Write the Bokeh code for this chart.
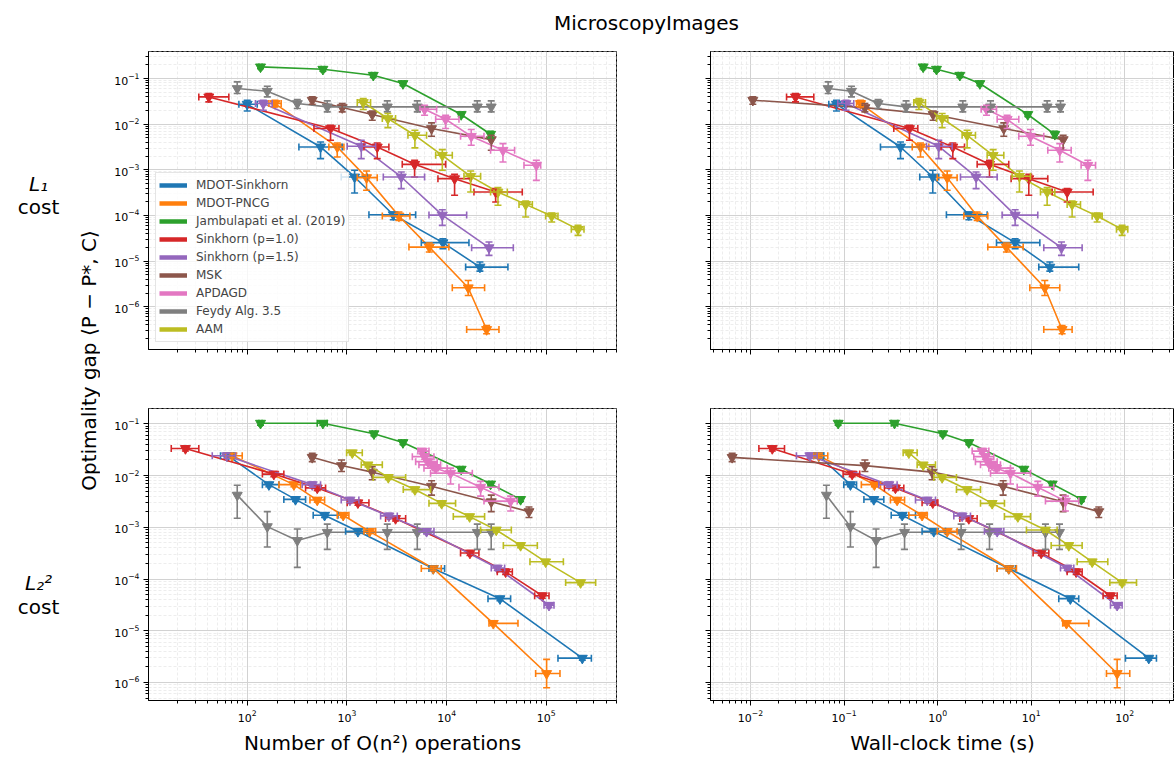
import math
from bokeh.plotting import figure
from bokeh.models import (ColumnDataSource, Whisker, TeeHead, Range1d, FixedTicker,
                          Legend, LegendItem, Label, CustomJSTickFormatter)
from bokeh.layouts import column, row
from bokeh.embed import file_html
from bokeh.resources import INLINE

# ---------------------------------------------------------------- series
NAMES = ["MDOT-Sinkhorn", "MDOT-PNCG", "Jambulapati et al. (2019)", "Sinkhorn (p=1.0)",
         "Sinkhorn (p=1.5)", "MSK", "APDAGD", "Feydy Alg. 3.5", "AAM"]
COLORS = ["#1f77b4", "#ff7f0e", "#2ca02c", "#d62728", "#9467bd",
          "#8c564b", "#e377c2", "#7f7f7f", "#bcbd22"]
(MS, PN, JA, S1, S15, MSK, AP, FE, AAM) = NAMES

# ---------------------------------------------------------------- L1 cost: optimality gap
L1_Y = {
    MS: [0.0274, 0.00317, 0.000698, 0.000104, 2.54e-5, 7.41e-6],
    PN: [0.0283, 0.00317, 0.000675, 9.73e-5, 2.03e-5, 2.61e-6, 3.18e-7],
    JA: [0.180, 0.160, 0.118, 0.0777, 0.0163, 0.00601],
    S1: [0.0396, 0.00802, 0.00317, 0.00132, 0.000641, 0.000327],
    S15: [0.0283, 0.00328, 0.000698, 0.000102, 1.97e-5],
    MSK: [0.0335, 0.0231, 0.0163, 0.00802, 0.00459],
    AP: [0.0212, 0.0128, 0.00543, 0.00268, 0.00126],
    FE: [0.0604, 0.0527, 0.0283, 0.0239, 0.0239, 0.0239, 0.0239, 0.0239],
    AAM: [0.0298, 0.0133, 0.00571, 0.00208, 0.000721, 0.000327, 0.000175, 9.73e-5, 4.97e-5],
}
L1_YLO = {
    MS: [0.0195, 0.00176, 0.000311, 8.09e-5, 1.87e-5, 6.05e-6],
    PN: [0.0239, 0.00191, 0.000356, 7.82e-5, 1.58e-5, 1.77e-6, 2.56e-7],
    JA: [0.164, 0.145, 0.107, 0.0706, 0.0148, 0.0050],
    S1: [0.0308, 0.00445, 0.00176, 0.000698, 0.000277, 0.000197],
    S15: [0.0202, 0.00176, 0.000387, 6.08e-5, 1.34e-5],
    MSK: [0.0274, 0.0186, 0.0122, 0.00543, 0.00268],
    AP: [0.0157, 0.00802, 0.00345, 0.00149, 0.000589],
    FE: [0.0469, 0.0396, 0.0220, 0.0186, 0.0186, 0.0186, 0.0186, 0.0186],
    AAM: [0.0209, 0.00841, 0.00302, 0.000977, 0.000327, 0.000167, 9.25e-5, 7.19e-5, 3.66e-5],
}
L1_YHI = {
    MS: [0.0335, 0.00408, 0.000977, 0.000119, 3.10e-5, 9.55e-6],
    PN: [0.0335, 0.00388, 0.000944, 0.000119, 2.49e-5, 3.78e-6, 3.9e-7],
    JA: [0.198, 0.176, 0.130, 0.0855, 0.0179, 0.0070],
    S1: [0.0469, 0.00948, 0.00388, 0.00162, 0.000798, 0.000387],
    S15: [0.0335, 0.00445, 0.000897, 0.000134, 2.62e-5],
    MSK: [0.0396, 0.0283, 0.0195, 0.01067, 0.00571],
    AP: [0.0260, 0.0157, 0.00762, 0.00376, 0.00162],
    FE: [0.0845, 0.0679, 0.0346, 0.0324, 0.0324, 0.0324, 0.0324, 0.0324],
    AAM: [0.0364, 0.0171, 0.00736, 0.00277, 0.000944, 0.000407, 0.000208, 0.000113, 6.08e-5],
}
# L1 cost: number of O(n^2) operations
L1_OPS = {
    MS: [100, 544, 1194, 2917, 9183, 21580],
    PN: [190, 800, 1574, 3325, 6700, 16480, 25180],
    JA: [136, 574, 1837, 3648, 14000, 27600],
    S1: [41.2, 685, 2014, 4775, 12020, 31050],
    S15: [145, 1393, 3508, 9057, 26610],
    MSK: [449, 897, 1795, 7063, 28050],
    AP: [6012, 9772, 17660, 36730, 79430],
    FE: [79.4, 159, 318, 635, 2540, 5080, 20300, 28000],
    AAM: [1459, 2576, 4808, 9057, 17420, 32740, 62090, 113200, 208000],
}
L1_OPS_LO = {
    MS: [82.5, 330, 877, 1663, 5572, 15520],
    PN: [165, 659, 1270, 2265, 4190, 11400, 15890],
    JA: [131, 552, 1766, 3508, 13460, 26540],
    S1: [32.7, 467, 1482, 3589, 8185, 18800],
    S15: [121, 1007, 2317, 6653, 17820],
    AP: [5395, 7762, 13800, 27610, 59700],
    AAM: [1270, 2265, 4093, 7762, 14930, 27610, 53210, 98450, 178200],
}
L1_OPS_HI = {
    MS: [126, 897, 1600, 4890, 16750, 41200],
    PN: [219, 933, 2014, 4285, 10540, 24040, 33500],
    JA: [141, 597, 1910, 3794, 14560, 28700],
    S1: [65.4, 832, 2636, 9772, 17420, 57400],
    S15: [178, 1941, 6012, 15890, 46670],
    AP: [7943, 13300, 23700, 48080, 87700],
    AAM: [1726, 3076, 6295, 11400, 21930, 40640, 72440, 130900, 238800],
}
# L1 cost: wall-clock time (s)
L1_T = {
    MS: [0.0830, 0.401, 0.887, 2.153, 6.73, 15.81],
    PN: [0.150, 0.656, 1.265, 2.644, 5.43, 13.96, 21.38],
    JA: [0.700, 0.972, 1.726, 2.825, 9.19, 17.87],
    S1: [0.0303, 0.500, 1.452, 3.581, 9.42, 24.2],
    S15: [0.105, 1.028, 2.576, 6.73, 21.04],
    MSK: [0.0106, 0.167, 0.895, 5.09, 21.93],
    AP: [3.327, 5.533, 9.82, 20.18, 40.27],
    FE: [0.0676, 0.120, 0.231, 0.460, 1.858, 3.673, 14.79, 20.56],
    AAM: [0.630, 1.117, 2.065, 3.917, 7.48, 14.79, 27.35, 50.6, 93.6],
}
L1_T_LO = {
    MS: [0.0687, 0.245, 0.644, 1.241, 4.256, 12.05],
    PN: [0.136, 0.535, 0.989, 1.905, 3.436, 9.66, 13.62],
    JA: [0.673, 0.935, 1.660, 2.716, 8.84, 17.18],
    S1: [0.0243, 0.340, 1.089, 2.644, 6.10, 16.75],
    S15: [0.0857, 0.760, 1.754, 4.887, 13.62],
    AP: [2.917, 4.325, 7.362, 15.03, 34.12],
    AAM: [0.556, 0.972, 1.827, 3.381, 6.25, 12.56, 24.2, 44.8, 81.5],
}
L1_T_HI = {
    MS: [0.101, 0.656, 1.028, 3.381, 12.36, 32.2],
    PN: [0.165, 0.805, 1.615, 3.436, 8.20, 20.18, 27.35],
    JA: [0.728, 1.011, 1.795, 2.938, 9.56, 18.58],
    S1: [0.0475, 0.614, 1.936, 5.754, 15.03, 45.9],
    S15: [0.127, 1.429, 4.325, 11.75, 34.99],
    AP: [4.256, 7.362, 13.62, 26.73, 48.64],
    AAM: [0.741, 1.285, 2.535, 5.093, 9.82, 17.87, 33.6, 57.3, 107.6],
}

# ---------------------------------------------------------------- L2^2 cost: optimality gap
L2_Y = {
    MS: [0.0242, 0.00668, 0.00346, 0.00171, 0.000835, 0.000160, 4.17e-5, 2.95e-6],
    PN: [0.0242, 0.00668, 0.00336, 0.00171, 0.000835, 0.000160, 1.39e-5, 1.49e-6],
    JA: [0.103, 0.103, 0.0644, 0.0435, 0.0133, 0.00687, 0.00346],
    S1: [0.0334, 0.01067, 0.00577, 0.00298, 0.00148, 0.000318, 0.000138, 4.75e-5],
    S15: [0.0242, 0.00668, 0.00336, 0.00166, 0.000835, 0.000163, 3.11e-5],
    MSK: [0.0225, 0.0156, 0.01164, 0.00621, 0.00312, 0.00201],
    AP: [0.0297, 0.0232, 0.0186, 0.0161, 0.0139, 0.01114, 0.00594, 0.00321],
    FE: [0.00418, 0.00103, 0.000556, 0.000800, 0.000800, 0.000800, 0.000800, 0.000800],
    AAM: [0.0276, 0.0161, 0.00921, 0.00536, 0.00290, 0.00161, 0.000887, 0.000446, 0.000215, 8.53e-5],
}
L2_YLO = {
    MS: [0.0220, 0.00607, 0.00315, 0.00155, 0.000759, 0.000145, 3.79e-5, 2.68e-6],
    PN: [0.0220, 0.00607, 0.00305, 0.00155, 0.000759, 0.000145, 1.26e-5, 7.91e-7],
    JA: [0.0946, 0.0946, 0.0591, 0.0399, 0.0122, 0.00630, 0.00317],
    S1: [0.0298, 0.00953, 0.00515, 0.00266, 0.00132, 0.000284, 0.000123, 4.24e-5],
    S15: [0.0216, 0.00596, 0.00300, 0.00148, 0.000746, 0.000146, 2.78e-5],
    MSK: [0.0186, 0.0120, 0.00832, 0.00418, 0.00201, 0.00155],
    AP: [0.0265, 0.0207, 0.0166, 0.0144, 0.0124, 0.00687, 0.00400, 0.00207],
    FE: [0.00150, 0.000415, 0.000168, 0.000374, 0.000374, 0.000374, 0.000374, 0.000374],
    AAM: [0.0251, 0.0146, 0.00837, 0.00487, 0.00264, 0.00146, 0.000806, 0.000405, 0.000195, 7.75e-5],
}
L2_YHI = {
    MS: [0.0266, 0.00735, 0.00381, 0.00188, 0.000919, 0.000176, 4.59e-5, 3.25e-6],
    PN: [0.0266, 0.00735, 0.00370, 0.00188, 0.000919, 0.000176, 1.53e-5, 2.79e-6],
    JA: [0.112, 0.112, 0.0702, 0.0474, 0.0145, 0.00749, 0.00377],
    S1: [0.0374, 0.01195, 0.00646, 0.00334, 0.00166, 0.000356, 0.000155, 5.32e-5],
    S15: [0.0271, 0.00748, 0.00376, 0.00186, 0.000935, 0.000183, 3.48e-5],
    MSK: [0.0268, 0.0200, 0.0149, 0.00796, 0.00418, 0.00247],
    AP: [0.0333, 0.0260, 0.0208, 0.0180, 0.0156, 0.0139, 0.00773, 0.00400],
    FE: [0.00649, 0.00201, 0.000927, 0.00115, 0.00115, 0.00115, 0.00115, 0.00115],
    AAM: [0.0304, 0.0177, 0.0101, 0.00590, 0.00319, 0.00177, 0.000976, 0.000491, 0.000237, 9.38e-5],
}
# L2^2 cost: number of O(n^2) operations
L2_OPS = {
    MS: [64.0, 165, 305, 597, 1289, 7345, 34280, 229600],
    PN: [70.6, 294, 504, 918, 1687, 7345, 29380, 100700],
    JA: [136, 574, 1866, 3648, 14000, 27600, 55200],
    S1: [24.0, 185, 504, 1289, 3076, 17140, 39060, 91200],
    S15: [62.1, 449, 1072, 2636, 6295, 32220, 106400],
    MSK: [449, 883, 1795, 7063, 28050, 67000],
    AP: [5702, 6012, 6497, 7184, 7762, 10960, 21930, 43850],
    FE: [79.4, 159, 318, 635, 2540, 5080, 20300, 28000],
    AAM: [1132, 1625, 2600, 4808, 8913, 17020, 31480, 55210, 98450, 220800],
}
L2_OPS_LO = {
    MS: [54.0, 142, 233, 459, 970, 6653, 26000, 130900],
    PN: [60.7, 208, 426, 800, 1482, 5572, 26610, 78160],
    JA: [131, 504, 1794, 3508, 13460, 26540, 53080],
    S1: [17.3, 142, 385, 1007, 2443, 13800, 32220, 76380],
    S15: [44.6, 356, 877, 2177, 5078, 28050, 94850],
    AP: [5152, 4530, 4890, 5277, 5929, 6900, 13300, 23710],
    AAM: [993, 1393, 1837, 3673, 6653, 11670, 21930, 37070, 68550, 156300],
}
L2_OPS_HI = {
    MS: [73.5, 208, 385, 813, 1600, 9550, 43850, 283100],
    PN: [89.1, 343, 597, 1047, 1941, 8831, 51970, 137100],
    JA: [141, 635, 1940, 3794, 14560, 28700, 57400],
    S1: [32.7, 233, 611, 1663, 3882, 21090, 45610, 106400],
    S15: [76.4, 544, 1318, 3199, 7464, 38190, 119400],
    AP: [6653, 7464, 8054, 8710, 10160, 18110, 33500, 51170],
    AAM: [1426, 2265, 3882, 6900, 12300, 24040, 44570, 81280, 148300, 312600],
}
# L2^2 cost: wall-clock time (s)
L2_T = {
    MS: [0.0537, 0.117, 0.208, 0.418, 0.910, 5.754, 26.2, 180.3],
    PN: [0.0537, 0.211, 0.369, 0.682, 1.265, 5.754, 23.8, 82.8],
    JA: [0.0865, 0.346, 1.135, 2.153, 8.34, 16.75, 34.4],
    S1: [0.0171, 0.122, 0.354, 0.887, 2.153, 12.77, 30.2, 70.3],
    S15: [0.0431, 0.301, 0.773, 1.827, 4.325, 24.2, 82.8],
    MSK: [0.00637, 0.167, 0.873, 5.01, 21.9, 52.7],
    AP: [2.992, 3.245, 3.436, 3.822, 4.256, 5.998, 11.75, 23.2],
    FE: [0.0648, 0.117, 0.220, 0.443, 1.782, 3.581, 14.19, 20.05],
    AAM: [0.492, 0.700, 1.117, 2.065, 3.822, 7.19, 14.19, 25.2, 44.8, 93.6],
}
L2_T_LO = {
    MS: [0.0475, 0.0993, 0.163, 0.319, 0.682, 4.325, 19.7, 101.6],
    PN: [0.0475, 0.153, 0.313, 0.492, 0.989, 4.325, 21.7, 63.7],
    JA: [0.0832, 0.320, 1.091, 2.070, 8.02, 16.11, 33.1],
    S1: [0.0123, 0.0977, 0.270, 0.682, 1.726, 10.47, 24.2, 58.6],
    S15: [0.0310, 0.235, 0.580, 1.489, 3.162, 20.56, 70.3],
    AP: [2.339, 2.434, 2.535, 2.871, 3.524, 3.673, 7.08, 14.19],
    AAM: [0.428, 0.604, 0.910, 1.589, 2.871, 5.176, 8.89, 16.33, 30.97, 69.2],
}
L2_T_HI = {
    MS: [0.0608, 0.136, 0.266, 0.580, 1.213, 6.79, 32.2, 217.8],
    PN: [0.0670, 0.245, 0.443, 0.773, 1.615, 6.95, 41.2, 113.0],
    JA: [0.0900, 0.374, 1.180, 2.239, 8.67, 17.42, 35.8],
    S1: [0.0231, 0.147, 0.435, 1.005, 2.644, 15.42, 35.0, 82.8],
    S15: [0.0515, 0.369, 0.948, 2.244, 5.093, 28.5, 93.6],
    AP: [3.524, 3.981, 4.325, 4.691, 5.998, 9.82, 17.42, 32.2],
    AAM: [0.604, 0.948, 1.589, 2.871, 5.176, 9.82, 18.92, 35.0, 65.8, 133.4],
}

# ---------------------------------------------------------------- axis settings
OPS_RANGE = (10.23, 505800.0)
TIME_RANGE = (0.00374, 339.6)
L1_RANGE = (1.16e-7, 0.391)
L2_RANGE = (4.48e-7, 0.198)
OPS_MAJOR = [1e1, 1e2, 1e3, 1e4, 1e5, 1e6]
TIME_MAJOR = [1e-3, 1e-2, 1e-1, 1e0, 1e1, 1e2, 1e3]
GAP_MAJOR = [1e-8, 1e-7, 1e-6, 1e-5, 1e-4, 1e-3, 1e-2, 1e-1, 1e0]

FONT = "DejaVu Sans"


def minors(majors):
    out = []
    for d in majors:
        for m in range(2, 10):
            out.append(m * d)
    return out


def style_axis(ax, major, show_labels):
    ax.ticker = FixedTicker(ticks=major, minor_ticks=minors(major))
    ax.axis_line_color = "black"
    ax.axis_line_width = 1
    ax.major_tick_line_color = "black"
    ax.minor_tick_line_color = "black"
    ax.major_tick_out = 5
    ax.major_tick_in = 0
    ax.minor_tick_out = 3
    ax.minor_tick_in = 0
    ax.major_label_text_font = FONT
    ax.major_label_text_font_size = "11px"
    ax.major_label_text_color = "black"
    ax.major_label_standoff = 4
    if not show_labels:
        ax.formatter = CustomJSTickFormatter(code="return ''")


def panel(Y, YLO, YHI, X, XLO, XHI, xr, yr, xmaj, w, h, bl, br, bt, bb,
          xlabels, ylabels, xlabel=None, legend=False):
    p = figure(width=w, height=h, x_axis_type="log", y_axis_type="log",
               x_range=Range1d(*xr), y_range=Range1d(*yr),
               min_border_left=bl, min_border_right=br, min_border_top=bt, min_border_bottom=bb,
               output_backend="svg", toolbar_location=None)
    p.outline_line_color = "black"
    p.outline_line_alpha = 1
    p.outline_line_width = 1
    style_axis(p.xaxis[0], xmaj, xlabels)
    style_axis(p.yaxis[0], GAP_MAJOR, ylabels)
    for g in (p.xgrid[0], p.ygrid[0]):
        g.grid_line_color = "#d2d2d2"
        g.grid_line_width = 1
        g.minor_grid_line_color = "#e9e9e9"
        g.minor_grid_line_dash = "3 2"
        g.minor_grid_line_width = 0.8
    if xlabel:
        p.xaxis.axis_label = xlabel
        p.xaxis.axis_label_text_font = FONT
        p.xaxis.axis_label_text_font_size = "20px"
        p.xaxis.axis_label_text_font_style = "normal"
        p.xaxis.axis_label_text_color = "black"
        p.xaxis.axis_label_standoff = 6

    for name, color in zip(NAMES, COLORS):
        data = dict(x=X[name], y=Y[name], ylo=YLO[name], yhi=YHI[name])
        has_x = name in XLO
        if has_x:
            data["xlo"] = XLO[name]
            data["xhi"] = XHI[name]
        src = ColumnDataSource(data)
        p.line("x", "y", source=src, line_color=color, line_width=1.6)
        wy = Whisker(source=src, base="x", lower="ylo", upper="yhi", dimension="height",
                     line_color=color, line_width=1.6, level="glyph",
                     upper_head=TeeHead(size=7, line_color=color, line_width=1.6),
                     lower_head=TeeHead(size=7, line_color=color, line_width=1.6))
        p.add_layout(wy)
        if has_x:
            wx = Whisker(source=src, base="y", lower="xlo", upper="xhi", dimension="width",
                         line_color=color, line_width=1.6, level="glyph",
                         upper_head=TeeHead(size=7, line_color=color, line_width=1.6),
                         lower_head=TeeHead(size=7, line_color=color, line_width=1.6))
            p.add_layout(wx)
        p.scatter("x", "y", source=src, marker="inverted_triangle", size=10,
                  fill_color=color, line_color=color)

    if legend:
        items = []
        # legend handles: thick lines kept outside the visible ranges
        hx = [xr[0] / 100.0, xr[0] / 50.0]
        hy = [yr[1] * 100.0, yr[1] * 100.0]
        for name, color in zip(NAMES, COLORS):
            r = p.line(hx, hy, line_color=color, line_width=4.5)
            items.append(LegendItem(label=name, renderers=[r]))
        lg = Legend(items=items, location=(7, 7), margin=0, padding=3, spacing=0,
                    glyph_width=28, glyph_height=18, label_height=18, label_standoff=9,
                    label_text_font=FONT, label_text_font_size="12px",
                    border_line_color="#cccccc", border_line_width=1,
                    background_fill_color="white", background_fill_alpha=0.8)
        p.add_layout(lg)
    return p


tl = panel(L1_Y, L1_YLO, L1_YHI, L1_OPS, L1_OPS_LO, L1_OPS_HI, OPS_RANGE, L1_RANGE, OPS_MAJOR,
           560, 340, 48, 44, 11, 31, False, True, legend=True)
tr = panel(L1_Y, L1_YLO, L1_YHI, L1_T, L1_T_LO, L1_T_HI, TIME_RANGE, L1_RANGE, TIME_MAJOR,
           514, 340, 50, 0, 11, 31, False, False)
bl = panel(L2_Y, L2_YLO, L2_YHI, L2_OPS, L2_OPS_LO, L2_OPS_HI, OPS_RANGE, L2_RANGE, OPS_MAJOR,
           560, 377, 48, 44, 28, 53, True, True, xlabel="Number of O(n²) operations")
br = panel(L2_Y, L2_YLO, L2_YHI, L2_T, L2_T_LO, L2_T_HI, TIME_RANGE, L2_RANGE, TIME_MAJOR,
           514, 377, 50, 0, 28, 53, True, False, xlabel="Wall-clock time (s)")


def text_canvas(w, h, y0):
    f = figure(width=w, height=h, x_range=Range1d(0, w), y_range=Range1d(y0 + h, y0),
               x_axis_location=None, y_axis_location=None, min_border=0,
               output_backend="svg", toolbar_location=None)
    f.outline_line_color = None
    f.grid.visible = False
    return f


title_fig = text_canvas(1174, 40, 0)
title_fig.add_layout(Label(x=646, y=22, text="MicroscopyImages", text_align="center",
                           text_baseline="middle", text_font=FONT, text_font_size="20px",
                           text_color="black"))

strip = text_canvas(100, 717, 40)
for (tx, ty, txt, st) in [(38, 183, "L₁", "italic"), (38, 206, "cost", "normal"),
                          (38, 582, "L₂²", "italic"), (38, 606, "cost", "normal")]:
    strip.add_layout(Label(x=tx, y=ty, text=txt, text_align="center", text_baseline="middle",
                           text_font=FONT, text_font_size="20px", text_font_style=st,
                           text_color="black"))
strip.add_layout(Label(x=88, y=360, text="Optimality gap ⟨P − P*, C⟩", angle=math.pi / 2,
                       text_align="center", text_baseline="middle", text_font=FONT,
                       text_font_size="20px", text_color="black"))

layout = column(title_fig, row(strip, column(row(tl, tr), row(bl, br))))

open("out.html", "w").write(file_html(layout, INLINE))
